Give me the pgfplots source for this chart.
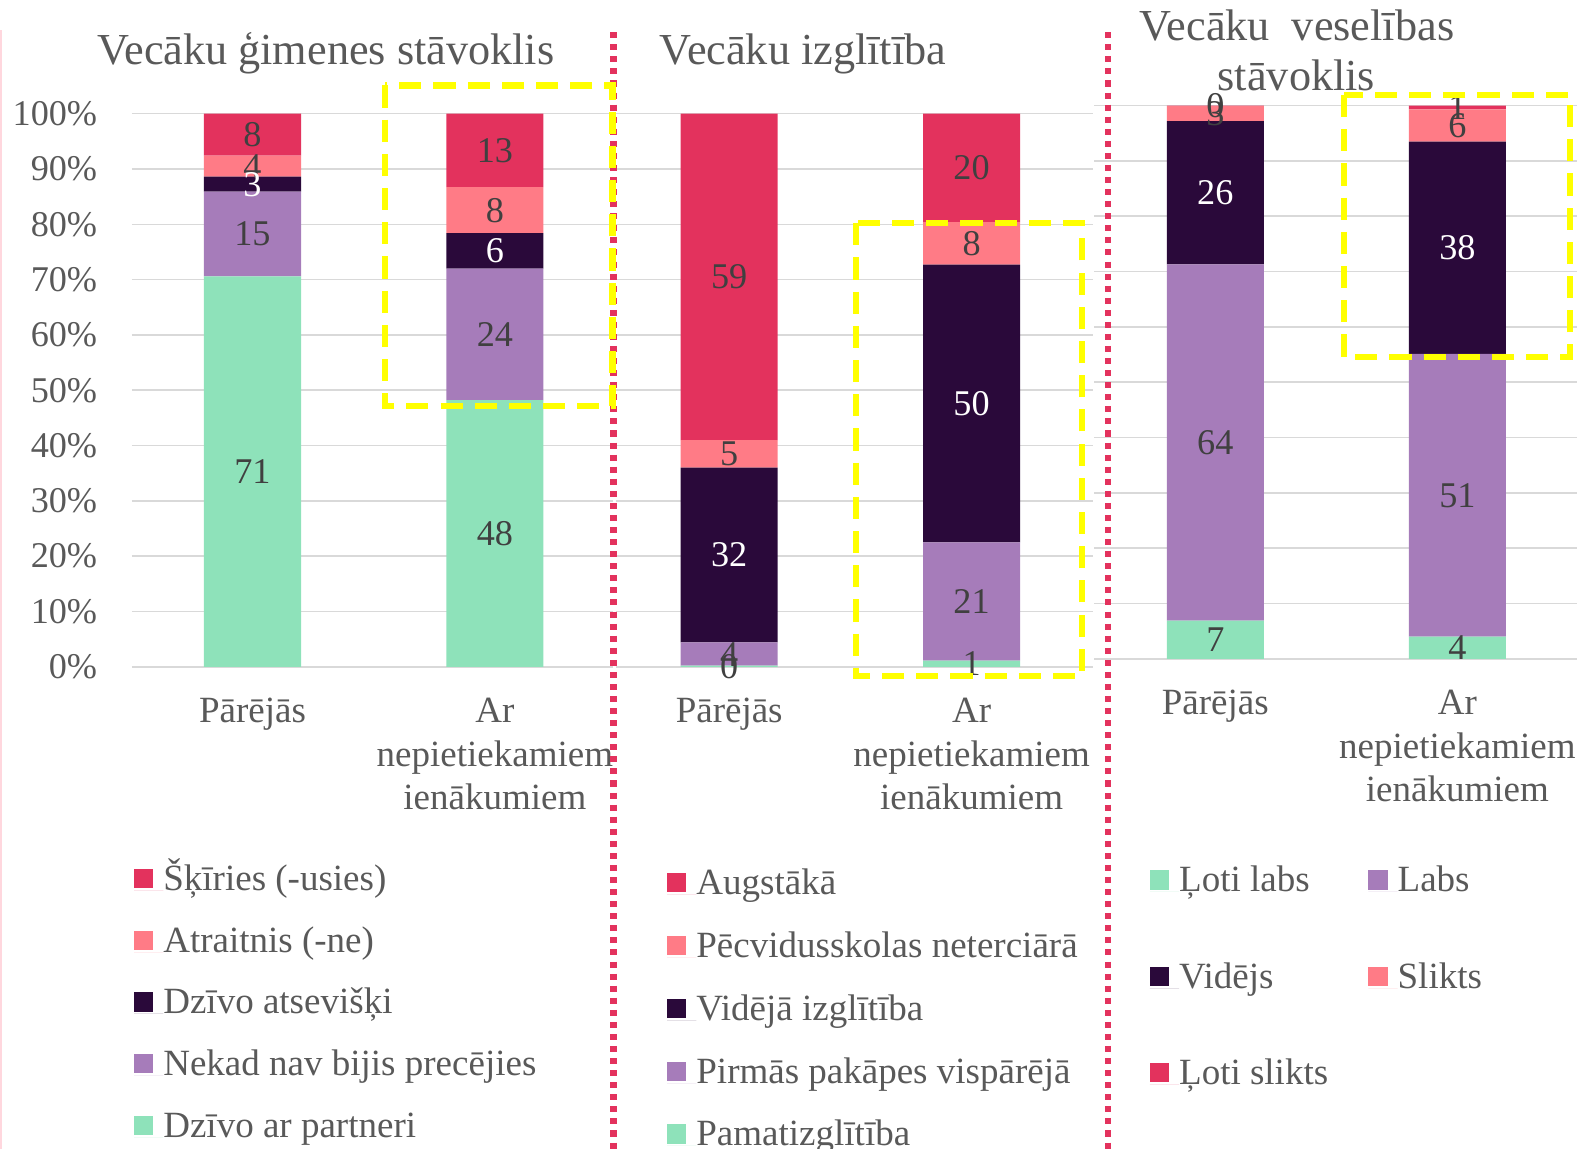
\documentclass[border=0pt]{standalone}
\usepackage{pgfplots}
\usepackage{pgfplotstable}
\pgfplotsset{compat=1.18}
\usepackage{fontspec}
\setmainfont{Liberation Serif}

\definecolor{cCrim}{RGB}{227,50,93}
\definecolor{cSalm}{RGB}{255,123,134}
\definecolor{cDark}{RGB}{42,9,58}
\definecolor{cPurp}{RGB}{166,124,186}
\definecolor{cMint}{RGB}{142,226,186}
\definecolor{txt}{RGB}{89,89,89}
\definecolor{lbl}{RGB}{64,64,64}
\definecolor{gridc}{RGB}{217,217,217}
\definecolor{yel}{RGB}{255,255,0}
\definecolor{edgepink}{RGB}{255,215,222}

% Vecaku gimenes stavoklis: a=partneri b=nekad c=atseviski d=atraitnis e=skiries
\pgfplotstableread{
x a b c d e
0 70.6 15.3 2.7 3.8 7.6
1 48.2 23.8 6.4 8.3 13.3
}\tabA
% Vecaku izglitiba: a=pamat b=pirmas c=videja d=pecvidusskolas e=augstaka
\pgfplotstableread{
x a b c d e
0 0.2 4.2 31.6 5.0 59.0
1 1.1 21.4 50.2 7.7 19.6
}\tabB
% Vecaku veselibas stavoklis: a=loti labs b=labs c=videjs d=slikts e=loti slikts
\pgfplotstableread{
x a b c d e
0 6.9 64.4 25.9 2.7 0.1
1 4.0 51.1 38.4 5.8 0.7
}\tabC

\pgfplotsset{
  /pgf/number format/assume math mode=true,
  panel/.style={
    scale only axis, height=275pt, ybar stacked, bar width=48.25pt,
    ymin=0, ymax=100, ytick={0,10,...,100}, enlargelimits=false,
    axis line style={draw=none}, tick style={draw=none},
    ymajorgrids, major grid style={draw=gridc, line width=0.75pt},
    xtick={0,1}, xticklabels={Pārējās,{Ar\\nepietiekamiem\\ienākumiem}},
    xticklabel style={align=center, anchor=north, inner sep=0pt, yshift=-15.5pt,
      font=\fontsize{18.4}{21.5}\selectfont, text=txt},
    clip=false,
    every node near coord/.append style={anchor=center,
      font=\fontsize{18}{21}\selectfont, text=lbl, inner sep=0pt},
    legend image code/.code={\fill[##1] (0pt,1.2pt) rectangle (9.5pt,10.7pt);
      \path (0pt,0pt) -- (14.5pt,0pt);},
    legend style={draw=none, fill=none, inner sep=0pt, anchor=north west,
      cells={anchor=base west},
      nodes={inner sep=0pt, text height=13pt, text depth=4pt,
        font=\fontsize{18.4}{22}\selectfont, text=txt}},
  },
  seg/.style 2 args={fill=#1, draw=none,
    visualization depends on={\thisrow{#2}\as\segv},
    nodes near coords={\pgfmathprintnumber[fixed,precision=0]{\segv}}},
  segw/.style 2 args={fill=#1, draw=none,
    visualization depends on={\thisrow{#2}\as\segv},
    nodes near coords={\color{white}\pgfmathprintnumber[fixed,precision=0]{\segv}}},
}

\begin{document}
\begin{tikzpicture}
\useasboundingbox (0pt,0pt) rectangle (784pt,-571pt);

% ---------- Panel 1 ----------
\begin{axis}[panel, at={(65.5pt,-331.5pt)}, anchor=south west, width=239pt,
  xmin=-0.498, xmax=1.485,
  yticklabel={\pgfmathprintnumber{\tick}\%},
  yticklabel style={font=\fontsize{18}{22}\selectfont, text=txt, inner sep=0pt, xshift=-17pt},
  reverse legend,
  legend style={at={(0.0042,-0.357)}, row sep=13.6pt}]
\addplot[seg={cMint}{a}] table[x=x,y=a]{\tabA};
\addlegendentry{Dzīvo ar partneri}
\addplot[seg={cPurp}{b}] table[x=x,y=b]{\tabA};
\addlegendentry{Nekad nav bijis precējies}
\addplot[segw={cDark}{c}] table[x=x,y=c]{\tabA};
\addlegendentry{Dzīvo atsevišķi}
\addplot[seg={cSalm}{d}] table[x=x,y=d]{\tabA};
\addlegendentry{Atraitnis (-ne)}
\addplot[seg={cCrim}{e}] table[x=x,y=e]{\tabA};
\addlegendentry{Šķīries (-usies)}
\end{axis}

% ---------- Panel 2 ----------
\begin{axis}[panel, at={(306pt,-331.5pt)}, anchor=south west, width=237.5pt,
  xmin=-0.469, xmax=1.502, yticklabels={},
  reverse legend,
  legend style={at={(0.1074,-0.3636)}, row sep=14.25pt}]
\addplot[seg={cMint}{a}] table[x=x,y=a]{\tabB};
\addlegendentry{Pamatizglītība}
\addplot[seg={cPurp}{b}] table[x=x,y=b]{\tabB};
\addlegendentry{Pirmās pakāpes vispārējā}
\addplot[segw={cDark}{c}] table[x=x,y=c]{\tabB};
\addlegendentry{Vidējā izglītība}
\addplot[seg={cSalm}{d}] table[x=x,y=d]{\tabB};
\addlegendentry{Pēcvidusskolas neterciārā}
\addplot[seg={cCrim}{e}] table[x=x,y=e]{\tabB};
\addlegendentry{Augstākā}
\end{axis}

% ---------- Panel 3 ----------
\begin{axis}[panel, at={(544pt,-327.5pt)}, anchor=south west, width=240pt,
  xmin=-0.5, xmax=1.494, yticklabels={},
  legend columns=2,
  legend style={at={(0.1146,-0.3736)}, row sep=30.9pt,
    /tikz/every even column/.append style={column sep=20pt}}]
\addplot[seg={cMint}{a}] table[x=x,y=a]{\tabC};
\addlegendentry{Ļoti labs}
\addplot[seg={cPurp}{b}] table[x=x,y=b]{\tabC};
\addlegendentry{Labs}
\addplot[segw={cDark}{c}] table[x=x,y=c]{\tabC};
\addlegendentry{Vidējs}
\addplot[seg={cSalm}{d}] table[x=x,y=d]{\tabC};
\addlegendentry{Slikts}
\addplot[seg={cCrim}{e}] table[x=x,y=e]{\tabC};
\addlegendentry{Ļoti slikts}
\end{axis}

% ---------- Titles ----------
\node[anchor=base, font=\fontsize{22}{26}\selectfont, text=txt, inner sep=0pt] at (162pt,-32.3pt) {Vecāku ģimenes stāvoklis};
\node[anchor=base, font=\fontsize{22}{26}\selectfont, text=txt, inner sep=0pt] at (399.25pt,-32.3pt) {Vecāku izglītība};
\node[anchor=base, font=\fontsize{22}{26}\selectfont, text=txt, inner sep=0pt] at (644.75pt,-19.9pt) {Vecāku\ \ veselības};
\node[anchor=base, font=\fontsize{22}{26}\selectfont, text=txt, inner sep=0pt] at (644.5pt,-44.75pt) {stāvoklis};

% ---------- Decorations ----------
\draw[edgepink, line width=1pt] (0.5pt,-15pt) -- (0.5pt,-571pt);
\draw[cCrim, line width=3pt, dash pattern=on 3pt off 3pt] (305pt,-16pt) -- (305pt,-571pt);
\draw[cCrim, line width=3pt, dash pattern=on 3pt off 3pt] (551pt,-16pt) -- (551pt,-571pt);
\draw[yel, line width=3pt, dash pattern=on 11pt off 6pt] (191.5pt,-42.5pt) rectangle (304.5pt,-202pt);
\draw[yel, line width=3pt, dash pattern=on 11pt off 6pt] (425.5pt,-111pt) rectangle (538pt,-336pt);
\draw[yel, line width=3pt, dash pattern=on 11pt off 6pt] (668pt,-47.25pt) rectangle (780.5pt,-177.5pt);
\end{tikzpicture}
\end{document}
